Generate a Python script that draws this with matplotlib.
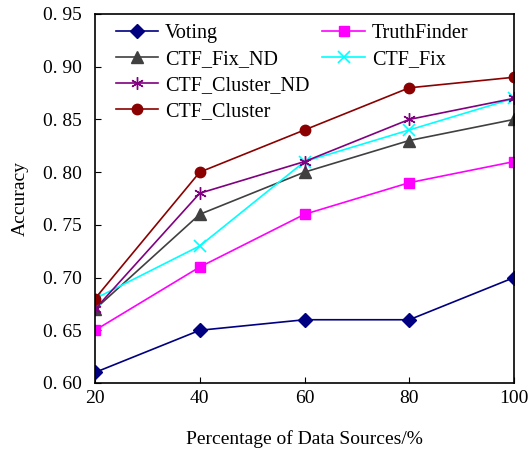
import matplotlib
matplotlib.use("Agg")
import matplotlib.pyplot as plt
from matplotlib.lines import Line2D

x = [20, 40, 60, 80, 100]
voting = [0.61, 0.65, 0.66, 0.66, 0.70]
truthfinder = [0.65, 0.71, 0.76, 0.79, 0.81]
ctf_fix_nd = [0.67, 0.76, 0.80, 0.83, 0.85]
ctf_fix = [0.68, 0.73, 0.81, 0.84, 0.87]
ctf_cluster_nd = [0.67, 0.78, 0.81, 0.85, 0.87]
ctf_cluster = [0.68, 0.80, 0.84, 0.88, 0.89]
yticks = [0.60, 0.65, 0.70, 0.75, 0.80, 0.85, 0.90, 0.95]
ytick_labels = ["0. 60", "0. 65", "0. 70", "0. 75", "0. 80", "0. 85", "0. 90", "0. 95"]

plt.rcParams['font.family'] = ['Liberation Serif', 'DejaVu Serif']
fig = plt.figure(figsize=(5.31, 4.5), dpi=100)
ax = fig.add_axes([95/531, 67/450, 419/531, 369/450])

h_v, = ax.plot(x, voting, color='#000080', marker='D', markersize=7, lw=1.2, label='Voting')
h_t, = ax.plot(x, truthfinder, color='#FF00FF', marker='s', markersize=7, lw=1.2, label='TruthFinder')
h_fnd, = ax.plot(x, ctf_fix_nd, color='#404040', marker='^', markersize=8, lw=1.2, label='CTF_Fix_ND')
h_f, = ax.plot(x, ctf_fix, color='#00FFFF', marker='x', markersize=8, mew=1.2, lw=1.2, label='CTF_Fix')
h_cnd, = ax.plot(x, ctf_cluster_nd, color='#800080', marker=(6, 2, 0), markersize=9, mew=1.0, lw=1.2, label='CTF_Cluster_ND')
h_c, = ax.plot(x, ctf_cluster, color='#8B0000', marker='o', markersize=7.5, lw=1.2, label='CTF_Cluster')

ax.set_xlim(20, 100)
ax.set_ylim(0.60, 0.95)
ax.set_xticks(x)
ax.set_yticks(yticks)
ax.set_yticklabels(ytick_labels)
ax.tick_params(direction='in', labelsize=14, length=4)
ax.tick_params(axis='x', pad=5)
ax.tick_params(axis='y', pad=9.5)
ax.set_xlabel('Percentage of Data Sources/%', fontsize=14, labelpad=17)
ax.set_ylabel('Accuracy', fontsize=14, labelpad=10)
for s in ax.spines.values():
    s.set_linewidth(1.2)

blank = Line2D([], [], color='none')
handles = [h_v, h_fnd, h_cnd, h_c, h_t, h_f, blank, blank]
labels = ['Voting', 'CTF_Fix_ND', 'CTF_Cluster_ND', 'CTF_Cluster', 'TruthFinder', 'CTF_Fix', '', '']
ax.legend(handles, labels, ncol=2, loc='upper left', bbox_to_anchor=(0.03, 0.995),
          frameon=False, fontsize=14.5, handlelength=2.1, borderaxespad=0.0,
          columnspacing=0.65, labelspacing=0.35, handletextpad=0.35)

fig.savefig('out.png', dpi=100)
